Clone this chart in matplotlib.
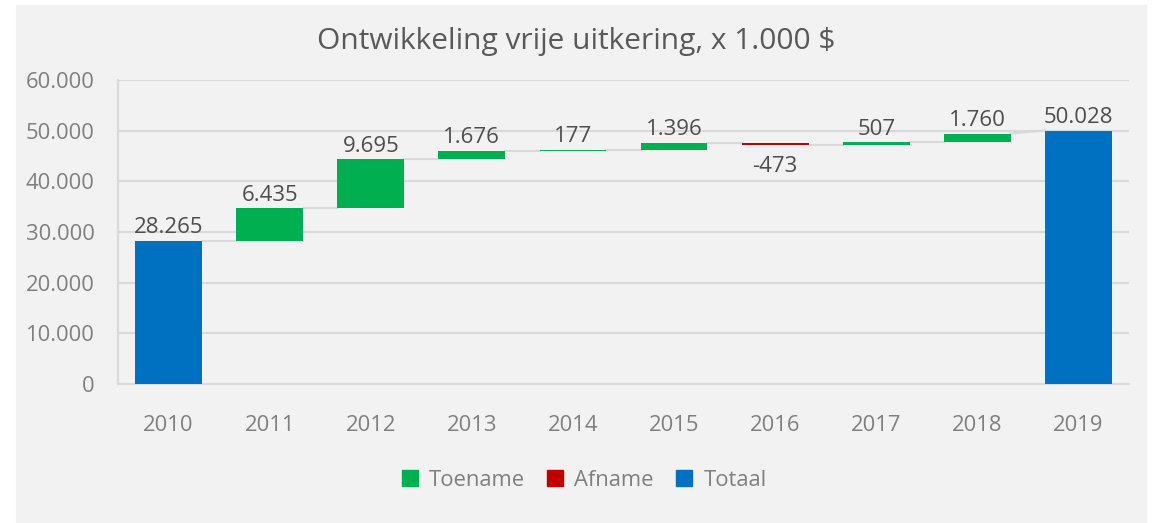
import numpy as np
import matplotlib.pyplot as plt
from matplotlib.patches import Rectangle, Patch

years = ["2010", "2011", "2012", "2013", "2014", "2015", "2016", "2017", "2018", "2019"]
changes = [28265, 6435, 9695, 1676, 177, 1396, -473, 507, 1760, 50028]
kinds = ["total", "up", "up", "up", "up", "up", "down", "up", "up", "total"]
labels = ["28.265", "6.435", "9.695", "1.676", "177", "1.396", "-473", "507", "1.760", "50.028"]

green = "#00b050"
red = "#c00000"
blue = "#0070c0"
grid_c = "#d9d9d9"

plt.rcParams['font.family'] = ['Open Sans', 'DejaVu Sans']

fig = plt.figure(figsize=(11.52, 5.23), dpi=100)
fig.patches.append(Rectangle((16 / 1152, 0), 1130 / 1152, 518 / 523,
                             transform=fig.transFigure, color="#f2f2f2", zorder=-10))
ax = fig.add_axes([118 / 1152, 1 - 384 / 523, 1011 / 1152, 304 / 523])
ax.set_facecolor("none")

x = np.arange(len(years))
w = 0.66
bottoms = []
tops = []
level = 0
for v, k in zip(changes, kinds):
    if k == "total":
        bottoms.append(0)
        tops.append(v)
        level = v
    else:
        bottoms.append(level)
        level += v
        tops.append(level)
bottoms = np.array(bottoms)
tops = np.array(tops)
heights = tops - bottoms
colors = [blue if k == "total" else (green if k == "up" else red) for k in kinds]
ax.bar(x, heights, bottom=bottoms, width=w, color=colors, zorder=3)

# connectors: end of one bar to start of the next
for i in range(len(x) - 1):
    end = tops[i]
    start = tops[i + 1] if kinds[i + 1] == "total" else bottoms[i + 1]
    ax.plot([x[i] + w / 2, x[i + 1] - w / 2], [end, start], color=grid_c, lw=1.5, zorder=2)

for i in range(len(x)):
    if changes[i] < 0:
        ax.text(x[i], min(bottoms[i], tops[i]) - 2200, labels[i], ha="center", va="top",
                fontsize=16, color="#4d4d4d")
    else:
        ax.text(x[i], max(bottoms[i], tops[i]) + 500, labels[i], ha="center", va="bottom",
                fontsize=16, color="#4d4d4d")

ax.set_xlim(-0.5, len(x) - 0.5)
ax.set_ylim(0, 60000)
ax.set_yticks(np.arange(0, 60001, 10000))
ax.set_yticklabels(["0" if t == 0 else f"{t // 1000}.000" for t in range(0, 60001, 10000)])
ax.set_xticks(x)
ax.set_xticklabels(years)
ax.tick_params(axis="both", length=0, labelsize=15.8, labelcolor="#7f7f7f")
ax.tick_params(axis="x", pad=22)
ax.tick_params(axis="y", pad=17)
ax.grid(axis="y", color=grid_c, lw=1.5, zorder=0)
for s in ["top", "right"]:
    ax.spines[s].set_visible(False)
for s in ["left", "bottom"]:
    ax.spines[s].set_color(grid_c)
    ax.spines[s].set_linewidth(1.5)

fig.text(0.5, 1 - 41 / 523, "Ontwikkeling vrije uitkering, x 1.000 $", ha="center", va="center",
         fontsize=21.5, color="#595959")

handles = [Patch(color=green, label="Toename"), Patch(color=red, label="Afname"),
           Patch(color=blue, label="Totaal")]
leg = fig.legend(handles=handles, loc="center", bbox_to_anchor=(0.507, 1 - 480 / 523), ncol=3,
                 frameon=False, fontsize=15.8, handlelength=0.75, handleheight=0.75,
                 handletextpad=0.5, columnspacing=1.0, labelcolor="#7f7f7f")

fig.savefig("out.png", dpi=100, facecolor="white")
